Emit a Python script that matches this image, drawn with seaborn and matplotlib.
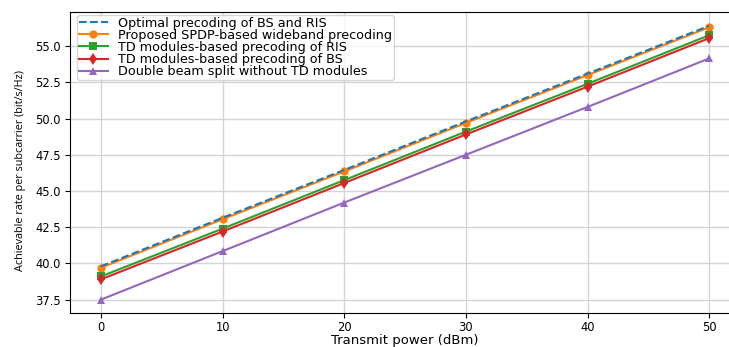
import matplotlib
matplotlib.use("Agg")
import matplotlib.pyplot as plt
import seaborn as sns
import pandas as pd

# transmit power (dBm)
power = [0, 10, 20, 30, 40, 50]

# achievable rate per subcarrier (bit/s/Hz)
optimal = [39.8, 43.15, 46.45, 49.8, 53.1, 56.4]
proposed = [39.7, 43.05, 46.35, 49.7, 53.0, 56.3]
td_ris = [39.1, 42.4, 45.75, 49.1, 52.4, 55.75]
td_bs = [38.9, 42.2, 45.55, 48.9, 52.2, 55.55]
double_split = [37.5, 40.85, 44.2, 47.5, 50.8, 54.15]

labels = ['Optimal precoding of BS and RIS',
          'Proposed SPDP-based wideband precoding',
          'TD modules-based precoding of RIS',
          'TD modules-based precoding of BS',
          'Double beam split without TD modules']

series = [optimal, proposed, td_ris, td_bs, double_split]
colors = ['tab:blue', 'tab:orange', 'tab:green', 'tab:red', 'tab:purple']
markers = [None, 'o', 's', 'd', '^']
styles = ['--', '-', '-', '-', '-']

fig, ax = plt.subplots(figsize=(7.29, 3.47), dpi=100)
fig.subplots_adjust(left=0.0967, right=1.0145, bottom=0.097, top=0.965)

for i in range(5):
    df = pd.DataFrame({'power': power, 'rate': series[i]})
    sns.lineplot(data=df, x='power', y='rate', ax=ax, label=labels[i],
                 color=colors[i], marker=markers[i], linestyle=styles[i],
                 markersize=6, markeredgewidth=0, linewidth=1.5,
                 zorder=3 if i == 0 else 2)

ax.grid(True, color='#d4d4d4', linewidth=1)
ax.set_axisbelow(True)
ax.set_xticks([0, 10, 20, 30, 40, 50])
ax.tick_params(labelsize=8.3)
ax.tick_params(axis='x', pad=2)
ax.set_xlabel('Transmit power (dBm)', fontsize=9.5, labelpad=0.3)
ax.set_ylabel('Achievable rate per subcarrier (bit/s/Hz)', fontsize=7.8,
              family=['Open Sans', 'DejaVu Sans'])
ax.yaxis.set_label_coords(-0.066, 0.475)

ax.legend(loc='upper left', bbox_to_anchor=(0.0097, 0.99), borderaxespad=0,
          fontsize=9.2, labelspacing=-0.07, borderpad=0.12,
          handlelength=2.3, framealpha=0.8)

fig.savefig('out.png')
